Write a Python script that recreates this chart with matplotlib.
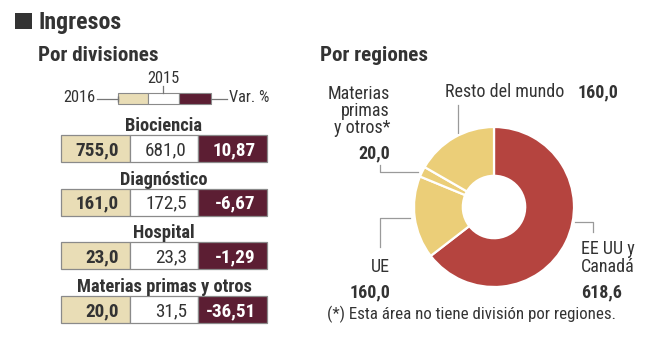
import matplotlib
matplotlib.use("Agg")
import matplotlib.pyplot as plt
from matplotlib import font_manager
from matplotlib.patches import Rectangle

# ---------------- data ----------------
divisions = ['Biociencia', 'Diagnóstico', 'Hospital', 'Materias primas y otros']
v2016 = [755.0, 161.0, 23.0, 20.0]
v2015 = [681.0, 172.5, 23.3, 31.5]
var_pct = [10.87, -6.67, -1.29, -36.51]

regions = ['EE UU y Canadá', 'UE', 'Materias primas y otros*', 'Resto del mundo']
region_vals = [618.6, 160.0, 20.0, 160.0]

# ---------------- fonts ----------------
names = {f.name for f in font_manager.fontManager.ttflist}
FONT = 'DejaVu Sans'
for cand in ['Roboto Condensed', 'Archivo Narrow', 'Liberation Sans Narrow',
             'PT Sans Narrow', 'Barlow Semi Condensed', 'Asap Condensed']:
    if cand in names:
        FONT = cand
        break
plt.rcParams['font.family'] = [FONT, 'DejaVu Sans']

TXT = '#333333'
TAN = '#E9DDB6'
MAROON = '#5C1E33'
RED = '#B5443F'
YEL = '#EBCE78'
EDGE = '#8A8A8A'
LEAD = '#9A9A9A'

def fmt(v, nd=1):
    return f"{v:.{nd}f}".replace('.', ',')

W, H = 664, 353
fig = plt.figure(figsize=(W / 100, H / 100), dpi=100)
ax = fig.add_axes([0, 0, 1, 1])
ax.set_xlim(0, W)
ax.set_ylim(H, 0)
ax.axis('off')

# ---------------- titles ----------------
ax.add_patch(Rectangle((15, 13), 17, 16, color=TXT, lw=0))
ax.text(38, 29, 'Ingresos', fontsize=17.2, fontweight='bold', color=TXT, va='baseline')
ax.text(38, 61, 'Por divisiones', fontsize=15.2, fontweight='bold', color=TXT, va='baseline')
ax.text(320, 61, 'Por regiones', fontsize=15.2, fontweight='bold', color=TXT, va='baseline')

# ---------------- legend ----------------
lfs = 11.8
ax.text(163, 83, '2015', fontsize=lfs, color=TXT, ha='center', va='baseline')
ax.text(95, 102, '2016', fontsize=lfs, color=TXT, ha='right', va='baseline')
ax.text(229, 102, 'Var. %', fontsize=lfs, color=TXT, ha='left', va='baseline')
ax.plot([97, 118], [98.5, 98.5], color='#777777', lw=0.9)
ax.plot([211, 227], [98.5, 98.5], color='#777777', lw=0.9)
ax.plot([163, 163], [86, 93], color='#777777', lw=0.9)
ax.plot([118], [98.5], marker='|', color='#777777', ms=4)
for x0, w, c in [(118, 30, TAN), (148, 31, 'white'), (179, 32, MAROON)]:
    ax.add_patch(Rectangle((x0, 93), w, 11, facecolor=c, edgecolor=EDGE, lw=0.8))

# ---------------- division table ----------------
cols = [(61, 69, TAN), (130, 68, 'white'), (198, 69, MAROON)]
row_top0, pitch, box_h = 135, 53.7, 27
for i, name in enumerate(divisions):
    top = row_top0 + i * pitch
    ax.text(164, top - 4, name, fontsize=13.3, fontweight='bold', color=TXT,
            ha='center', va='baseline')
    texts = [(fmt(v2016[i]), 'bold', TXT), (fmt(v2015[i]), 'normal', TXT),
             (fmt(var_pct[i], 2), 'bold', 'white')]
    for (x0, w, c), (s, fw, tc) in zip(cols, texts):
        ax.add_patch(Rectangle((x0, top), w, box_h, facecolor=c, edgecolor=EDGE, lw=0.9))
        ax.text(x0 + w - 11, top + 20, s, fontsize=13.8, fontweight=fw, color=tc,
                ha='right', va='baseline')

# ---------------- donut ----------------
cx, cy, R = 494, 207, 80
pax = fig.add_axes([(cx - R) / W, (H - cy - R) / H, 2 * R / W, 2 * R / H])
pax.pie(region_vals, colors=[RED, YEL, YEL, YEL], startangle=90, counterclock=False,
        radius=1, wedgeprops=dict(width=0.61, edgecolor='white', linewidth=1.6))
pax.set_xlim(-1, 1)
pax.set_ylim(-1, 1)
pax.axis('off')

# leader lines
ax.plot([458, 458], [105, 133], color=LEAD, lw=0.9)
ax.plot([380, 380, 418], [165, 172, 172], color=LEAD, lw=0.9)
ax.plot([380, 380, 410], [247, 218, 218], color=LEAD, lw=0.9)
ax.plot([575, 593, 593], [222, 222, 232], color=LEAD, lw=0.9)

# region labels
fs = 13.0
ax.text(445, 97, 'Resto del mundo', fontsize=fs, color=TXT, va='baseline')
ax.text(618, 97, fmt(region_vals[3]), fontsize=fs, fontweight='bold', color=TXT,
        ha='right', va='baseline')
for y, s in zip([99, 116, 133], ['Materias', 'primas', 'y otros*']):
    ax.text(390, y, s, fontsize=fs, color=TXT, ha='right', va='baseline')
ax.text(390, 158, fmt(region_vals[2]), fontsize=fs, fontweight='bold', color=TXT,
        ha='right', va='baseline')
ax.text(390, 272, 'UE', fontsize=fs, color=TXT, ha='right', va='baseline')
ax.text(390, 297, fmt(region_vals[1]), fontsize=fs, fontweight='bold', color=TXT,
        ha='right', va='baseline')
ax.text(581, 254, 'EE UU y', fontsize=fs, color=TXT, ha='left', va='baseline')
ax.text(581, 272, 'Canadá', fontsize=fs, color=TXT, ha='left', va='baseline')
ax.text(581, 297, fmt(region_vals[0]), fontsize=fs, fontweight='bold', color=TXT,
        ha='left', va='baseline')

ax.text(327, 319, '(*) Esta área no tiene división por regiones.', fontsize=12.2,
        color=TXT, ha='left', va='baseline')

fig.savefig('out.png', dpi=100)
